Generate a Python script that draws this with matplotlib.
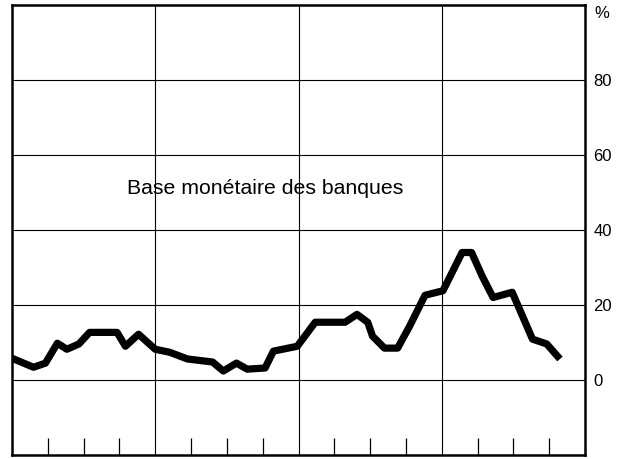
import matplotlib
matplotlib.use("Agg")
import matplotlib.pyplot as plt

plt.rcParams["font.family"] = ["Liberation Sans", "DejaVu Sans"]

# time in months from the start of the chart, value in %
mois = [0.0, 1.8, 2.8, 3.8, 4.6, 5.6, 6.5, 8.8, 9.5, 10.6, 12.0, 13.2, 14.7,
        16.8, 17.7, 18.8, 19.7, 21.2, 21.9, 23.9, 25.4, 27.9, 28.9, 29.8,
        30.2, 31.2, 32.3, 33.3, 34.6, 36.1, 37.7, 38.5, 39.4, 40.3, 41.9,
        43.6, 44.8, 45.9]
taux = [5.8, 3.4, 4.5, 9.8, 8.2, 9.6, 12.7, 12.7, 9.0, 12.2, 8.2, 7.4, 5.6,
        4.8, 2.4, 4.5, 2.9, 3.2, 7.7, 9.0, 15.4, 15.4, 17.5, 15.4,
        11.7, 8.5, 8.5, 14.3, 22.6, 23.8, 34.0, 34.0, 27.6, 22.0, 23.4,
        10.9, 9.6, 5.6]

annees = [12, 24, 36]
trimestres = [3, 6, 9, 15, 18, 21, 27, 30, 33, 39, 42, 45]
yticks = [0, 20, 40, 60, 80]
titre = "Base monétaire des banques"

fig = plt.figure(figsize=(6.35, 4.59), dpi=100)
ax = fig.add_axes([12 / 635, 4 / 459, 573 / 635, 450 / 459])

ax.set_xlim(0, 48)
ax.set_ylim(-20, 100)

# grid
for y in yticks:
    ax.axhline(y, color="black", lw=0.8, zorder=1)
for x in annees:
    ax.axvline(x, color="black", lw=0.8, zorder=1)

ax.plot(mois, taux, color="black", lw=5.2, solid_joinstyle="round",
        solid_capstyle="butt", zorder=3)

ax.text(9.6, 51.0, titre, fontsize=15.3, va="center", ha="left")

# axes
for s in ax.spines.values():
    s.set_linewidth(1.8)
ax.yaxis.tick_right()
ax.set_yticks(yticks)
ax.set_yticklabels([str(v) for v in yticks], fontsize=12)
ax.tick_params(axis="y", length=0, pad=6)
ax.set_xticks(trimestres)
ax.set_xticklabels([])
ax.tick_params(axis="x", direction="in", length=12, width=0.9)
ax.text(1.016, 0.98, "%", transform=ax.transAxes, fontsize=12,
        va="center", ha="left")

fig.savefig("out.png", dpi=100)
